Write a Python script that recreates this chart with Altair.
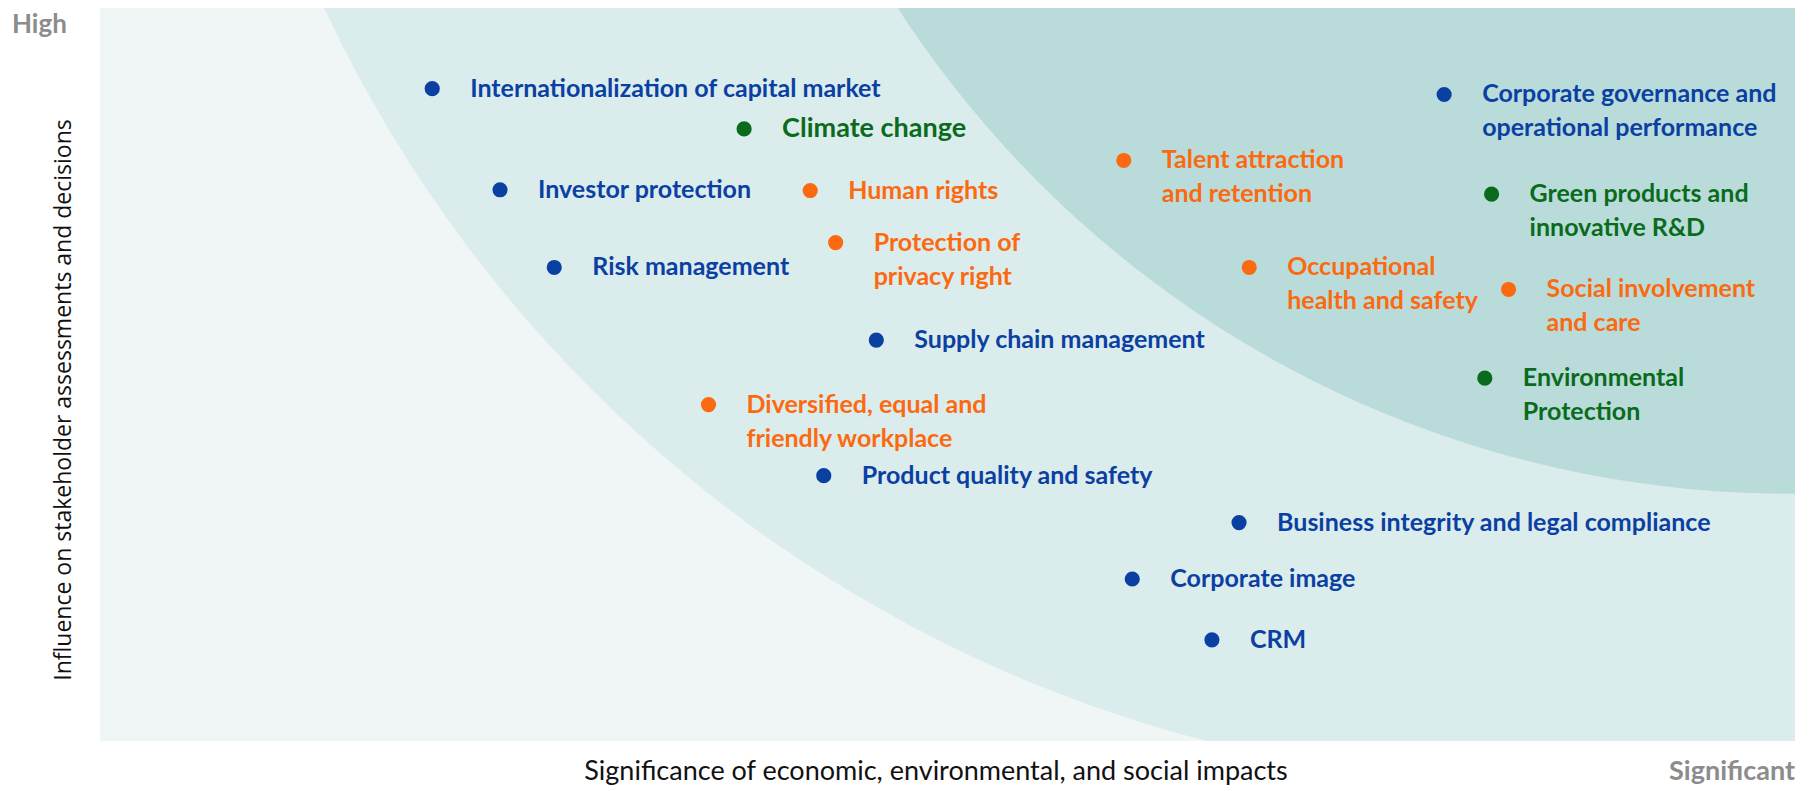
import altair as alt
import pandas as pd

# ---- data (0-100 scales) ----
topics_line1 = [
    "Internationalization of capital market", "Climate change", "Investor protection",
    "Human rights", "Risk management", "Protection of", "Talent attraction",
    "Corporate governance and", "Green products and", "Occupational",
    "Social involvement", "Environmental", "Supply chain management",
    "Diversified, equal and", "Product quality and safety",
    "Business integrity and legal compliance", "Corporate image", "CRM",
]
topics_line2 = [
    "", "", "", "", "", "privacy right", "and retention",
    "operational performance", "innovative R&D", "health and safety",
    "and care", "Protection", "", "friendly workplace", "", "", "", "",
]
category = [
    "Economic", "Environmental", "Economic", "Social", "Economic", "Social", "Social",
    "Economic", "Environmental", "Social", "Social", "Environmental", "Economic",
    "Social", "Economic", "Economic", "Economic", "Economic",
]
significance = [19.6, 38.0, 23.6, 41.9, 26.8, 43.4, 60.4, 79.3, 82.1, 67.8, 83.1, 81.7,
                45.8, 35.9, 42.7, 67.2, 60.9, 65.6]
influence = [89.0, 83.5, 75.2, 75.1, 64.6, 68.0, 79.2, 88.2, 74.6, 64.6, 61.6, 49.5,
             54.7, 45.9, 36.2, 29.8, 22.1, 13.8]

# background zones (circle centre on the same 0-100 scales, radius in px)
zone_x = [85.2, 99.7]
zone_y = [177.9, 178.6]
zone_r = [1347, 1062]
zone_name = ["Medium", "High"]

W, H = 1695, 733
BLUE, GREEN, ORANGE = "#0b40a3", "#0b6b1c", "#fb6a10"
FONT = "Lato"

df = pd.DataFrame({
    "line1": topics_line1, "line2": topics_line2, "cat": category,
    "x": significance, "y": influence,
})
zones = pd.DataFrame({"x": zone_x, "y": zone_y, "zone": zone_name})

xs = alt.Scale(domain=[0, 100], nice=False, zero=False)
ys = alt.Scale(domain=[0, 100], nice=False, zero=False)
X = alt.X("x:Q", scale=xs, axis=None)
Y = alt.Y("y:Q", scale=ys, axis=None)
color = alt.Color("cat:N", scale=alt.Scale(domain=["Economic", "Environmental", "Social"],
                                           range=[BLUE, GREEN, ORANGE]), legend=None)

base = alt.Chart(df)
ann = pd.DataFrame({"t": ["x"]})

bg = alt.Chart(ann).mark_rect(color="#eff6f5").encode(
    x=alt.value(0), x2=alt.value(W), y=alt.value(0), y2=alt.value(H)
)
mid = alt.Chart(zones).transform_filter(alt.datum.zone == "Medium").mark_arc(
    radius=zone_r[0], theta=0, theta2=6.2832, clip=True, color="#dbecec"
).encode(x=X, y=Y)
high = alt.Chart(zones).transform_filter(alt.datum.zone == "High").mark_arc(
    radius=zone_r[1], theta=0, theta2=6.2832, clip=True, color="#b9dcdb"
).encode(x=X, y=Y)

dots = base.mark_circle(size=230, opacity=1).encode(x=X, y=Y, color=color)

lab1 = base.transform_filter(alt.datum.line1 != "Climate change").mark_text(
    align="left", baseline="middle", dx=38, font=FONT, fontWeight="bold", fontSize=25
).encode(x=X, y=Y, text="line1:N", color=color)
lab_cc = base.transform_filter(alt.datum.line1 == "Climate change").mark_text(
    align="left", baseline="middle", dx=38, font=FONT, fontWeight="bold", fontSize=27
).encode(x=X, y=Y, text="line1:N", color=color)
lab2 = base.transform_filter(alt.datum.line2 != "").mark_text(
    align="left", baseline="middle", dx=38, dy=34, font=FONT, fontWeight="bold", fontSize=25
).encode(x=X, y=Y, text="line2:N", color=color)

high_lbl = alt.Chart(ann).mark_text(
    text="High", align="left", baseline="middle", font=FONT, fontWeight="bold",
    fontSize=26, color="#8c8c8c"
).encode(x=alt.value(-88), y=alt.value(17))
sig_lbl = alt.Chart(ann).mark_text(
    text="Significant", align="right", baseline="middle", font=FONT, fontWeight="bold",
    fontSize=27, color="#8c8c8c"
).encode(x=alt.value(W), y=alt.value(764))
xtitle = alt.Chart(ann).mark_text(
    text="Significance of economic, environmental, and social impacts", align="center",
    baseline="middle", font=FONT, fontSize=27, color="#111111"
).encode(x=alt.value(836), y=alt.value(764))
ytitle = alt.Chart(ann).mark_text(
    text="Influence on stakeholder assessments and decisions", align="center",
    baseline="middle", font="Open Sans", fontSize=23, angle=270, color="#111111"
).encode(x=alt.value(-36), y=alt.value(392))

chart = alt.layer(
    bg, mid, high, dots, lab1, lab_cc, lab2, high_lbl, sig_lbl, xtitle, ytitle
).properties(
    width=W, height=H, background="white",
    padding={"left": 4, "top": 0, "right": 0, "bottom": 0},
).configure_view(strokeWidth=0)

chart.save("out.html", embed_options={"renderer": "svg", "actions": False})
